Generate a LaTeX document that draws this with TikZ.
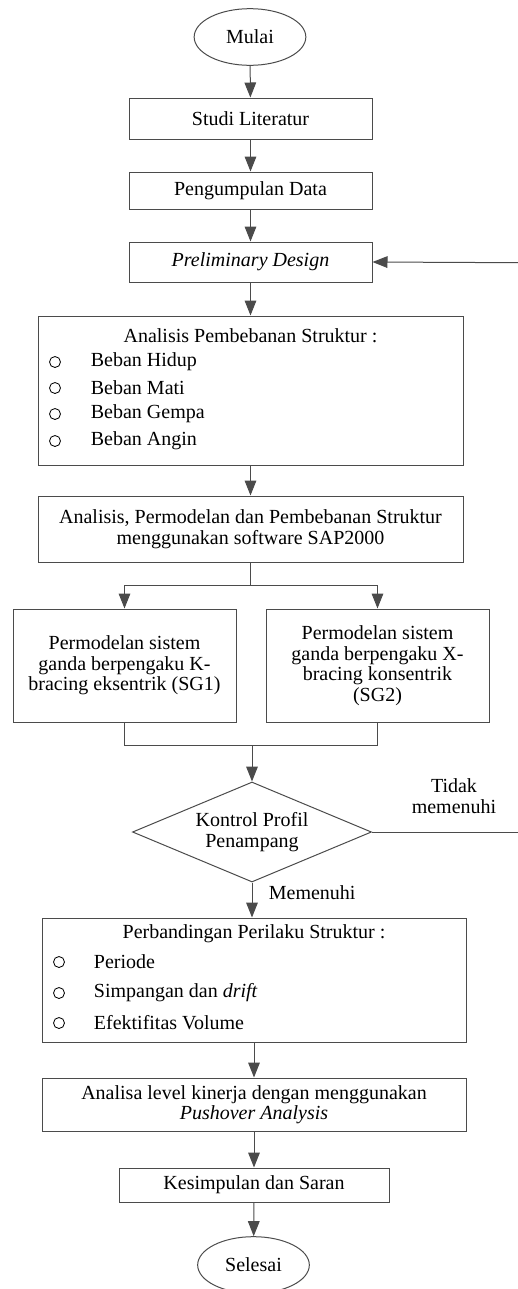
\documentclass[tikz,border=0pt]{standalone}
\usepackage{fontspec}
\setmainfont{Liberation Serif}
\usetikzlibrary{arrows.meta,shapes.geometric}
\definecolor{garis}{RGB}{75, 75, 75}

\begin{document}
\begin{tikzpicture}[x=0.6pt,y=0.6pt,
	font=\fontsize{12}{12.3}\selectfont,
	kotak/.style={draw=garis,line width=0.6pt,rectangle,inner sep=0pt,align=center},
	bulat/.style={draw=garis,line width=0.6pt,ellipse,inner sep=0pt,minimum width=67pt,minimum height=34pt},
	titik/.style={draw=black,line width=0.5pt,circle,inner sep=0pt,minimum size=6.6pt},
	panah/.style={draw=garis,line width=0.6pt,-{Triangle[length=9pt,width=7pt]}},
	garisan/.style={draw=garis,line width=0.6pt}]
	\useasboundingbox (0,0) rectangle (518,-1289);
	\node[bulat] (mulai) at (250,-37) {Mulai};
	\node[kotak,minimum width=145.8pt,minimum height=24.6pt] (studi) at (250.5,-118.5) {Studi Literatur};
	\node[kotak,minimum width=145.8pt,minimum height=22.2pt] (data) at (250.5,-190.5) {Pengumpulan Data};
	\node[kotak,minimum width=145.8pt,minimum height=24pt] (desain) at (250.5,-262) {\textit{Preliminary Design}};
	\node[kotak,minimum width=255pt,minimum height=89.4pt] (beban) at (250.5,-390.5) {};
	\node (judulbeban) at (250.5,-336) {Analisis Pembebanan Struktur :};
	\foreach \y/\teks in {362/Beban Hidup, 388/Beban Mati, 414/Beban Gempa, 441/Beban Angin}{
		\node[titik] (ob\y) at (55,-\y) {};
		\node[anchor=west] (tb\y) at (85,-\y) {\teks};}
	\node[kotak,minimum width=255pt,minimum height=39.6pt] (sap) at (250.5,-529) {Analisis, Permodelan dan Pembebanan Struktur\\menggunakan software SAP2000};
	\node[kotak,minimum width=133.8pt,minimum height=67.8pt] (sg1) at (124.5,-665.5) {Permodelan sistem\\ganda berpengaku K-\\bracing eksentrik (SG1)};
	\node[kotak,minimum width=133.8pt,minimum height=67.8pt] (sg2) at (377.5,-665.5) {Permodelan sistem\\ganda berpengaku X-\\bracing konsentrik\\(SG2)};
	\node[kotak,shape=diamond,aspect=2.4,minimum width=143.4pt,minimum height=60pt] (kontrol) at (252,-832) {Kontrol Profil\\Penampang};
	\node[kotak,minimum width=254.4pt,minimum height=74.4pt] (banding) at (254,-980) {};
	\node (judulbanding) at (254,-934) {Perbandingan Perilaku Struktur :};
	\foreach \y/\teks in {962/Periode, 993/Simpangan dan \textit{drift}, 1023/Efektifitas Volume}{
		\node[titik] (op\y) at (59,-\y) {};
		\node[anchor=west] (tp\y) at (88,-\y) {\teks};}
	\node[kotak,minimum width=254.4pt,minimum height=31.8pt] (pushover) at (254,-1104.5) {Analisa level kinerja dengan menggunakan\\\textit{Pushover Analysis}};
	\node[kotak,minimum width=162pt,minimum height=20.4pt] (simpul) at (254,-1185) {Kesimpulan dan Saran};
	\node[bulat] (selesai) at (253.5,-1265) {Selesai};
	% label cabang
	\node[align=center] (tidak) at (454,-796) {Tidak\\memenuhi};
	\node[anchor=west] (memenuhi) at (263,-893) {Memenuhi};
	\coordinate (masuk) at (518,-262.7);
	\coordinate (keluar) at (518,-832);
	\coordinate (cabang) at (250.5,-585);
	\coordinate (gabung) at (252,-745);
	% panah utama
	\draw[panah] (mulai) -- (studi);
	\draw[panah] (studi) -- (data);
	\draw[panah] (data) -- (desain);
	\draw[panah] (desain) -- (beban);
	\draw[panah] (beban) -- (sap);
	\draw[garisan] (sap) -- (cabang);
	\draw[panah] (cabang) -| (sg1.north);
	\draw[panah] (cabang) -| (sg2.north);
	\draw[garisan] (sg1.south) |- (gabung) -| (sg2.south);
	\draw[panah] (gabung) -- (kontrol.north);
	\draw[panah] (kontrol.south) -- (kontrol.south |- banding.north);
	\draw[panah] (banding.south) -- (pushover.north);
	\draw[panah] (pushover) -- (simpul);
	\draw[panah] (simpul) -- (selesai);
	% umpan balik
	\draw[garisan] (kontrol.east) -- (keluar);
	\draw[panah] (masuk) -- (desain.east);
\end{tikzpicture}
\end{document}
